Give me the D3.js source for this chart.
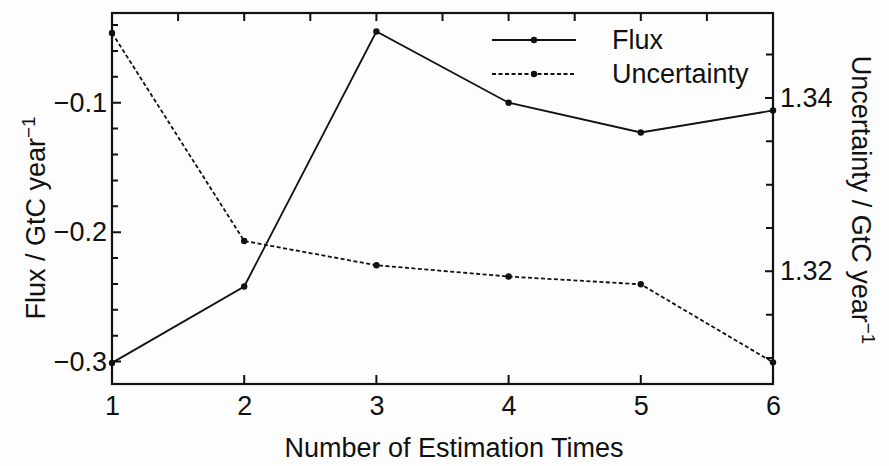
<!DOCTYPE html>
<html lang="en">

<head>
  <meta charset="utf-8">
  <script src="https://cdn.jsdelivr.net/npm/d3@7"></script>

  <style>
    body {
      margin: 0;
      background: #fcfdfc;
      font-family: "Liberation Sans", Arial, sans-serif;
    }

    .axis text {
      font-size: 27px;
      fill: #111;
    }

    .axis path,
    .axis line {
      display: none;
    }

    text.title {
      font-size: 27px;
      fill: #111;
    }
  </style>
</head>

<body>
  <svg id="chart" width="889" height="466"></svg>

  <script>
    // values
    var estimationTimes = [1, 2, 3, 4, 5, 6];
    var fluxValues = [-0.301, -0.242, -0.045, -0.100, -0.123, -0.106];
    var uncertaintyValues = [1.3475, 1.3235, 1.3207, 1.3194, 1.3185, 1.3095];

    var xTicks = [1, 2, 3, 4, 5, 6];
    var xTopTicks = [1.5, 2, 2.5, 3, 3.5, 4, 4.5, 5, 5.5];
    var fluxTicks = [-0.3, -0.2, -0.1];
    var fluxMinorTicks = [-0.3, -0.28, -0.26, -0.24, -0.22, -0.2, -0.18, -0.16, -0.14, -0.12, -0.1, -0.08, -0.06, -0.04];
    var uncTicks = [1.32, 1.34];
    var uncMinorTicks = [1.31, 1.315, 1.32, 1.325, 1.33, 1.335, 1.34, 1.345];

    var seriesNames = ['Flux', 'Uncertainty'];

    var frame = { left: 112, right: 773, top: 13, bottom: 384 };

    var svg = d3.select('#chart');

    var xScale = d3.scaleLinear()
      .domain([1, 6])
      .range([frame.left, frame.right]);

    var yFlux = d3.scaleLinear()
      .domain([-0.3173, -0.0307])
      .range([frame.bottom, frame.top]);

    var yUnc = d3.scaleLinear()
      .domain([1.3070, 1.3498])
      .range([frame.bottom, frame.top]);

    // axis labels
    svg.append('g')
      .attr('class', 'axis')
      .attr('transform', 'translate(0,' + frame.bottom + ')')
      .call(d3.axisBottom(xScale).tickValues(xTicks).tickSize(0)
        .tickPadding(12).tickFormat(d3.format('d')));

    svg.append('g')
      .attr('class', 'axis')
      .attr('transform', 'translate(' + frame.left + ',0)')
      .call(d3.axisLeft(yFlux).tickValues(fluxTicks).tickSize(0)
        .tickPadding(5).tickFormat(d3.format('.1f')));

    svg.append('g')
      .attr('class', 'axis')
      .attr('transform', 'translate(' + frame.right + ',0)')
      .call(d3.axisRight(yUnc).tickValues(uncTicks).tickSize(0)
        .tickPadding(7).tickFormat(d3.format('.2f')));

    // tick marks, all in one path, pointing inward
    var tickPath = d3.path();
    function vTicks(values, y, len) {
      values.forEach(function (d) {
        tickPath.moveTo(xScale(d), y);
        tickPath.lineTo(xScale(d), y + len);
      });
    }
    function hTicks(values, scale, x, len) {
      values.forEach(function (d) {
        tickPath.moveTo(x, scale(d));
        tickPath.lineTo(x + len, scale(d));
      });
    }

    vTicks(xTicks, frame.bottom, -9);
    vTicks(xTopTicks, frame.top, 8);
    hTicks(fluxMinorTicks, yFlux, frame.left, 6);
    hTicks(fluxTicks, yFlux, frame.left, 9);
    hTicks(uncMinorTicks, yUnc, frame.right, -7);
    hTicks(uncTicks, yUnc, frame.right, -8);

    svg.append('path')
      .attr('d', tickPath.toString())
      .attr('fill', 'none')
      .attr('stroke', '#111')
      .attr('stroke-width', 2);

    // frame
    svg.append('rect')
      .attr('x', frame.left)
      .attr('y', frame.top)
      .attr('width', frame.right - frame.left)
      .attr('height', frame.bottom - frame.top)
      .attr('fill', 'none')
      .attr('stroke', '#111')
      .attr('stroke-width', 2.2);

    // lines
    var fluxLine = d3.line()
      .x(function (d, i) { return xScale(estimationTimes[i]); })
      .y(function (d) { return yFlux(d); });

    var uncLine = d3.line()
      .x(function (d, i) { return xScale(estimationTimes[i]); })
      .y(function (d) { return yUnc(d); });

    svg.append('path')
      .datum(uncertaintyValues)
      .attr('d', uncLine)
      .attr('fill', 'none')
      .attr('stroke', '#111')
      .attr('stroke-width', 1.8)
      .attr('stroke-dasharray', '4,2.5');

    svg.append('path')
      .datum(fluxValues)
      .attr('d', fluxLine)
      .attr('fill', 'none')
      .attr('stroke', '#111')
      .attr('stroke-width', 1.8);

    svg.selectAll('.fluxdot')
      .data(fluxValues)
      .enter().append('circle')
      .attr('class', 'fluxdot')
      .attr('cx', function (d, i) { return xScale(estimationTimes[i]); })
      .attr('cy', function (d) { return yFlux(d); })
      .attr('r', 3.2)
      .attr('fill', '#111');

    svg.selectAll('.uncdot')
      .data(uncertaintyValues)
      .enter().append('circle')
      .attr('class', 'uncdot')
      .attr('cx', function (d, i) { return xScale(estimationTimes[i]); })
      .attr('cy', function (d) { return yUnc(d); })
      .attr('r', 3.2)
      .attr('fill', '#111');

    // legend
    var legend = svg.append('g');
    seriesNames.forEach(function (name, i) {
      var y = 40 + i * 34;
      legend.append('line')
        .attr('x1', 492).attr('x2', 576)
        .attr('y1', y).attr('y2', y)
        .attr('stroke', '#111')
        .attr('stroke-width', 1.8)
        .attr('stroke-dasharray', i === 0 ? null : '4,2.5');
      legend.append('circle')
        .attr('cx', 534).attr('cy', y).attr('r', 3.2).attr('fill', '#111');
      legend.append('text')
        .attr('class', 'title')
        .attr('x', 612)
        .attr('y', y + 9)
        .text(name);
    });

    // axis titles
    svg.append('text')
      .attr('class', 'title')
      .attr('x', 454)
      .attr('y', 457)
      .attr('text-anchor', 'middle')
      .text('Number of Estimation Times');

    var leftTitle = svg.append('text')
      .attr('class', 'title')
      .attr('transform', 'translate(45,218) rotate(-90)')
      .attr('text-anchor', 'middle')
      .text('Flux / GtC year');
    leftTitle.append('tspan')
      .style('baseline-shift', 'super')
      .style('font-size', '0.7em')
      .text('\u22121');

    var rightTitle = svg.append('text')
      .attr('class', 'title')
      .attr('transform', 'translate(852,200) rotate(90)')
      .attr('text-anchor', 'middle')
      .text('Uncertainty / GtC year');
    rightTitle.append('tspan')
      .style('baseline-shift', 'super')
      .style('font-size', '0.7em')
      .text('\u22121');
  </script>
</body>

</html>
